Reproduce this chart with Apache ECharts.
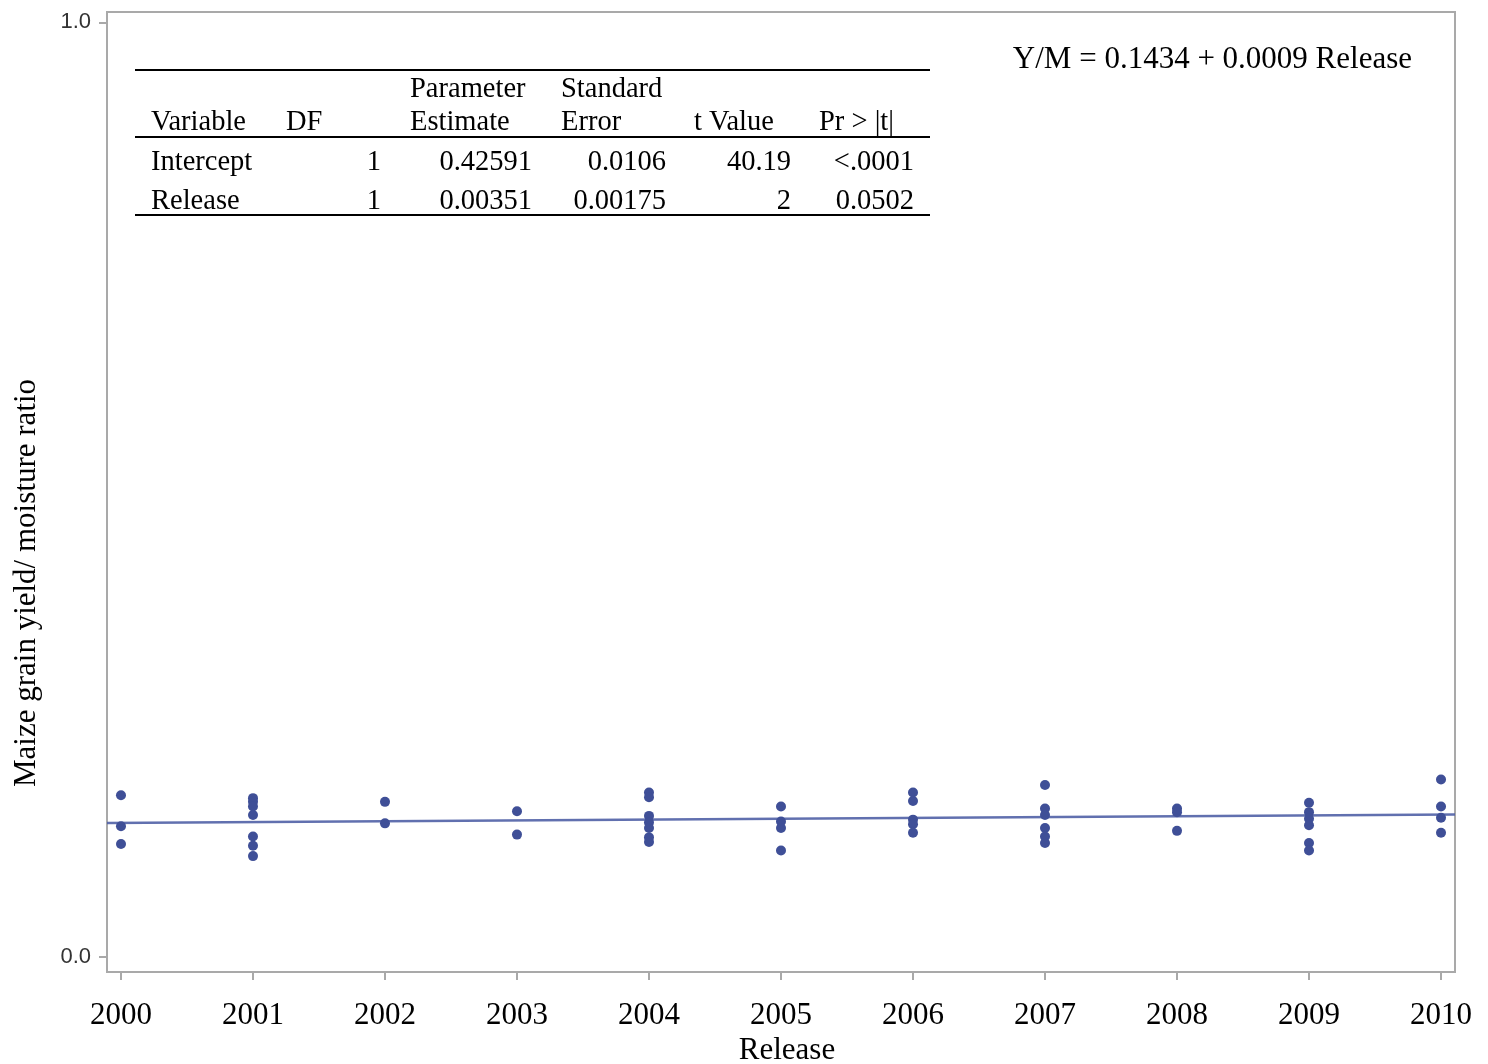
<!DOCTYPE html>
<html>
<head>
<meta charset="utf-8">
<script src="https://cdn.jsdelivr.net/npm/echarts@6/dist/echarts.min.js"></script>
<style>
  html, body { margin: 0; padding: 0; background: #fff; }
  #chart { width: 1488px; height: 1064px; }
</style>
</head>
<body>
<div id="chart"></div>
<script>
// Release years (index 0 = 2000) and observed yield/moisture ratios
const releaseLabels = ['2000','2001','2002','2003','2004','2005','2006','2007','2008','2009','2010'];
const rel2000 = [0.173, 0.140, 0.121];
const rel2001 = [0.170, 0.166, 0.161, 0.152, 0.129, 0.119, 0.108];
const rel2002 = [0.166, 0.143];
const rel2003 = [0.156, 0.131];
const rel2004 = [0.176, 0.171, 0.151, 0.144, 0.138, 0.128, 0.123];
const rel2005 = [0.161, 0.145, 0.138, 0.114];
const rel2006 = [0.176, 0.167, 0.147, 0.142, 0.133];
const rel2007 = [0.184, 0.159, 0.152, 0.138, 0.129, 0.122];
const rel2008 = [0.159, 0.155, 0.135];
const rel2009 = [0.165, 0.155, 0.148, 0.141, 0.122, 0.114];
const rel2010 = [0.190, 0.161, 0.149, 0.133];
const groups = [rel2000, rel2001, rel2002, rel2003, rel2004, rel2005, rel2006, rel2007, rel2008, rel2009, rel2010];

// Fitted line: Y/M = 0.1434 + 0.0009 Release
const fitIntercept = 0.1434;
const fitSlope = 0.0009;
const equationText = 'Y/M = 0.1434 + 0.0009 Release';

// Parameter estimates table
const tableHead1 = ['', '', 'Parameter', 'Standard', '', ''];
const tableHead2 = ['Variable', 'DF', 'Estimate', 'Error', 't Value', 'Pr > |t|'];
const tableRows = [
  ['Intercept', '1', '0.42591', '0.0106', '40.19', '<.0001'],
  ['Release', '1', '0.00351', '0.00175', '2', '0.0502']
];

const X_MIN = -0.106, X_MAX = 10.106;
const Y_MIN = -0.016, Y_MAX = 1.011;

const points = [];
groups.forEach((vals, i) => vals.forEach(v => points.push([i, v])));

const fitLine = [X_MIN, X_MAX].map(x => [x, fitIntercept + fitSlope * x]);

const serif = "'Liberation Serif', 'Times New Roman', serif";
const sans = "'Liberation Sans', Arial, sans-serif";
const dotColor = '#3f4f97';
const frameColor = '#a9a9a9';

// table graphics
const headLeft = [151, 286, 410, 561, 694, 819];
const cellRight = [null, 381, 532, 666, 791, 914];
const tableFont = '28.5px ' + serif;
const tableGraphics = [];
[70, 137, 215].forEach(y => {
  tableGraphics.push({
    type: 'line', shape: { x1: 135, y1: y, x2: 930, y2: y },
    style: { stroke: '#000', lineWidth: 2 }, silent: true
  });
});
[[tableHead1, 90], [tableHead2, 123]].forEach(([row, y]) => {
  row.forEach((t, c) => {
    if (!t) return;
    tableGraphics.push({
      type: 'text', x: headLeft[c], y: y,
      style: { text: t, font: tableFont, fill: '#000', textAlign: 'left', textVerticalAlign: 'middle' }
    });
  });
});
tableRows.forEach((row, r) => {
  const y = [163, 202][r];
  row.forEach((t, c) => {
    tableGraphics.push({
      type: 'text', x: c === 0 ? headLeft[0] : cellRight[c], y: y,
      style: { text: t, font: tableFont, fill: '#000', textAlign: c === 0 ? 'left' : 'right', textVerticalAlign: 'middle' }
    });
  });
});

const chart = echarts.init(document.getElementById('chart'), null, { renderer: 'canvas' });
chart.setOption({
  animation: false,
  backgroundColor: '#fff',
  grid: {
    left: 107, right: 33, top: 12, bottom: 92,
    show: true, borderColor: frameColor, borderWidth: 2, backgroundColor: '#fff'
  },
  xAxis: {
    type: 'value', min: X_MIN, max: X_MAX,
    splitLine: { show: false },
    axisLine: { show: false, onZero: false },
    axisTick: { show: true, length: 8, lineStyle: { color: frameColor, width: 2 }, customValues: releaseLabels.map((_, i) => i) },
    axisLabel: {
      customValues: releaseLabels.map((_, i) => i),
      formatter: v => releaseLabels[Math.round(v)],
      fontFamily: serif, fontSize: 31, color: '#000', margin: 28
    }
  },
  yAxis: {
    type: 'value', min: Y_MIN, max: Y_MAX,
    splitLine: { show: false },
    axisLine: { show: false, onZero: false },
    axisTick: { show: true, length: 8, lineStyle: { color: frameColor, width: 2 }, customValues: [0, 1] },
    axisLabel: {
      customValues: [0, 1],
      formatter: v => v.toFixed(1),
      fontFamily: sans, fontSize: 22, color: '#333', margin: 16
    }
  },
  series: [
    {
      type: 'line', data: fitLine, symbol: 'none',
      lineStyle: { color: '#5060a6', width: 2.5, opacity: 0.9 },
      z: 2
    },
    {
      type: 'scatter', data: points, symbol: 'circle', symbolSize: 10,
      itemStyle: { color: dotColor, opacity: 1 }, z: 3
    }
  ],
  graphic: [
    {
      type: 'text', x: 1412, y: 60,
      style: { text: equationText, font: '31px ' + serif, fill: '#000', textAlign: 'right', textVerticalAlign: 'middle' }
    },
    {
      type: 'text', x: 787, y: 1051,
      style: { text: 'Release', font: '31px ' + serif, fill: '#000', textAlign: 'center', textVerticalAlign: 'middle' }
    },
    {
      type: 'text', x: 27, y: 583, rotation: Math.PI / 2,
      style: { text: 'Maize grain yield/ moisture ratio', font: '31px ' + serif, fill: '#000', textAlign: 'center', textVerticalAlign: 'middle' }
    }
  ].concat(tableGraphics)
});
</script>
</body>
</html>
